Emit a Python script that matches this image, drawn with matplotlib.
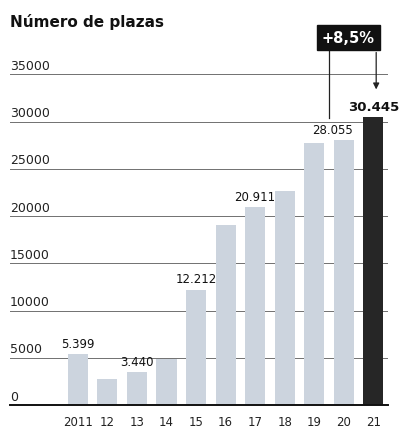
import matplotlib
matplotlib.use("Agg")
import matplotlib.pyplot as plt
import matplotlib.transforms as mtransforms

# Data
years = ['2011', '12', '13', '14', '15', '16', '17', '18', '19', '20', '21']
plazas = [5399, 2700, 3440, 4900, 12212, 19100, 20911, 22650, 27700, 28055, 30445]
value_labels = {0: '5.399', 2: '3.440', 4: '12.212', 6: '20.911', 9: '28.055', 10: '30.445'}
y_ticks = [0, 5000, 10000, 15000, 20000, 25000, 30000, 35000]
change_text = '+8,5%'

light = '#ccd4de'
dark = '#262626'

fig = plt.figure(figsize=(4.15, 4.35), dpi=100)
ax = fig.add_axes([10 / 415, 29 / 435, 378 / 415, 378 / 435])

x = list(range(len(years)))
colors = [light] * (len(years) - 1) + [dark]

# gridlines with labels sitting on them
for t in y_ticks:
    if t > 0:
        ax.axhline(t, color='#707070', lw=0.7, zorder=0)
    ax.text(0.0, t + 250, str(t), transform=mtransforms.blended_transform_factory(ax.transAxes, ax.transData),
            ha='left', va='bottom', fontsize=9, color='#222222')

ax.bar(x, plazas, width=0.68, color=colors, zorder=2)

for i, txt in value_labels.items():
    bold = i == len(years) - 1
    ha = 'center'
    xpos = x[i]
    if i == len(years) - 2:
        ha = 'right'
        xpos = x[i] + 0.3
    ax.annotate(txt, (xpos, plazas[i]), xytext=(0, 3), textcoords='offset points',
                ha=ha, va='bottom', fontsize=9.5 if bold else 8.5,
                fontweight='bold' if bold else 'normal', color='#111111', zorder=3)

# change box with leader lines
box_x = 9.15
box_y = 38900
ax.text(box_x, box_y, change_text, ha='center', va='center', color='white',
        fontsize=10.5, fontweight='bold', zorder=5,
        bbox=dict(boxstyle='square,pad=0.35', fc='#111111', ec='#111111'))
ax.plot([8.5, 8.5], [37600, 30400], color='#222222', lw=0.9, zorder=4)
ax.annotate('', xy=(10.1, 33100), xytext=(10.1, 37600),
            arrowprops=dict(arrowstyle='-|>', color='#222222', lw=0.9, mutation_scale=9), zorder=4)

ax.set_xlim(-2.3, 10.5)
ax.set_ylim(0, 40000)
ax.set_yticks([])
ax.set_xticks(x)
ax.set_xticklabels(years, fontsize=8.5, color='#222222')
ax.tick_params(axis='x', length=0, pad=7)

for s in ['top', 'right', 'left']:
    ax.spines[s].set_visible(False)
ax.spines['bottom'].set_color('#111111')
ax.spines['bottom'].set_linewidth(1.4)

fig.text(10 / 415, 1 - 22 / 435, 'Número de plazas', fontsize=11, fontweight='bold',
         ha='left', va='center', color='#111111')

fig.savefig('out.png', dpi=100)
